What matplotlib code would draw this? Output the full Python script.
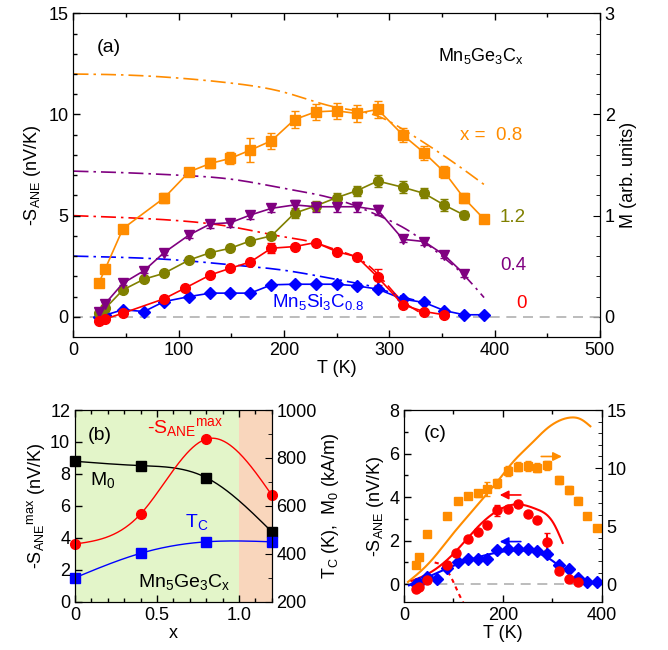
import numpy as np
import matplotlib
matplotlib.use('Agg')
import matplotlib.pyplot as plt

plt.rcParams['font.family'] = ['Liberation Sans', 'DejaVu Sans']
plt.rcParams['mathtext.default'] = 'regular'
plt.rcParams['font.size'] = 13

ORANGE = '#ff8c00'
OLIVE = '#808000'
PURPLE = '#800080'
RED = '#ff0000'
BLUE = '#0000ff'

# ---- panel (a) data: -S_ANE (nV/K) vs T (K)
T_08 = [24, 30, 47, 86, 110, 130, 149, 168, 188, 210, 230, 250, 269, 289, 313, 333, 352, 371, 390]
S_08 = [1.66, 2.35, 4.36, 5.87, 7.17, 7.58, 7.83, 8.24, 8.70, 9.75, 10.13, 10.18, 10.05, 10.25, 8.98, 8.11, 7.17, 5.86, 4.83]
E_08 = [0.1, 0.15, 0.15, 0.25, 0.2, 0.25, 0.3, 0.6, 0.4, 0.4, 0.4, 0.4, 0.4, 0.4, 0.35, 0.35, 0.3, 0.25, 0.1]

T_12 = [24, 30, 47, 67, 86, 110, 130, 149, 168, 188, 210, 230, 250, 269, 289, 313, 333, 352, 371]
S_12 = [0.21, 0.41, 1.33, 1.86, 2.15, 2.81, 3.17, 3.39, 3.75, 4.00, 5.12, 5.48, 5.89, 6.23, 6.71, 6.40, 6.10, 5.53, 5.03]
E_12 = [0.1, 0.1, 0.1, 0.1, 0.1, 0.1, 0.15, 0.15, 0.15, 0.15, 0.25, 0.25, 0.25, 0.25, 0.3, 0.3, 0.25, 0.3, 0.2]

T_04 = [24, 30, 47, 67, 86, 110, 130, 149, 168, 188, 210, 230, 250, 269, 289, 313, 333, 352, 371]
S_04 = [0.26, 0.64, 1.66, 2.28, 3.17, 4.05, 4.59, 4.65, 5.03, 5.36, 5.53, 5.44, 5.44, 5.44, 5.28, 3.83, 3.72, 3.06, 2.12]
E_04 = [0.05, 0.1, 0.1, 0.1, 0.1, 0.15, 0.2, 0.2, 0.2, 0.2, 0.25, 0.25, 0.25, 0.25, 0.25, 0.15, 0.15, 0.15, 0.15]

T_00 = [24, 30, 47, 86, 106, 130, 149, 168, 188, 210, 230, 250, 269, 289, 313, 333, 352]
S_00 = [-0.23, -0.11, 0.18, 0.89, 1.42, 2.07, 2.40, 2.71, 3.39, 3.47, 3.67, 3.22, 2.97, 1.96, 0.59, 0.26, 0.10]
E_00 = [0.05, 0.05, 0.05, 0.05, 0.05, 0.1, 0.1, 0.1, 0.25, 0.1, 0.1, 0.1, 0.1, 0.4, 0.1, 0.05, 0.05]

T_si = [24, 30, 47, 67, 86, 110, 130, 149, 168, 188, 210, 230, 250, 269, 289, 313, 333, 352, 371, 390]
S_si = [0.0, 0.08, 0.35, 0.26, 0.75, 1.00, 1.17, 1.17, 1.17, 1.58, 1.61, 1.61, 1.61, 1.53, 1.37, 0.87, 0.71, 0.31, 0.10, 0.10]

# magnetisation curves M(T), right axis (arb. units)
TM_08 = [0, 50, 100, 150, 200, 250, 290, 315, 345, 370, 391]
M_08 = [2.40, 2.39, 2.36, 2.31, 2.22, 2.07, 1.98, 1.84, 1.64, 1.46, 1.30]
TM_04 = [0, 50, 100, 150, 200, 255, 290, 320, 350, 370, 390]
M_04 = [1.44, 1.424, 1.40, 1.36, 1.27, 1.144, 1.0, 0.84, 0.60, 0.42, 0.19]
TM_00 = [0, 50, 100, 150, 200, 230, 250, 270, 290, 310, 328]
M_00 = [1.0, 0.98, 0.95, 0.89, 0.79, 0.73, 0.66, 0.58, 0.41, 0.18, 0.05]
TM_si = [0, 50, 100, 150, 200, 255, 290, 315, 335]
M_si = [0.6, 0.586, 0.56, 0.514, 0.46, 0.36, 0.28, 0.19, 0.14]

# ---- panel (b) data
x_c = [0, 0.4, 0.8, 1.2]
Smax = [3.61, 5.49, 10.18, 6.68]
M0 = [786, 768, 718, 492]
Tc = [300, 402, 450, 450]

# ---- panel (c) fit curves
TF_08 = [8, 50, 100, 134, 154, 190, 222, 255, 289, 315, 336, 358, 377]
F_08 = [0.2, 1.8, 4.4, 6.1, 7.1, 8.9, 10.6, 12.0, 13.4, 14.1, 14.35, 14.2, 13.6]
TF_00 = [15, 50, 100, 154, 194, 228, 269, 302, 321]
F_00 = [0.15, 0.5, 1.4, 2.74, 3.44, 3.67, 3.44, 2.82, 1.9]
TF_si = [10, 50, 100, 154, 200, 240, 280, 305, 321]
F_si = [-0.05, 0.35, 0.85, 1.27, 1.5, 1.55, 1.35, 1.0, 0.7]
TD_00 = [62, 75, 88, 100, 110, 120]
D_00 = [1.0, 0.9, 0.6, 0.1, -0.4, -0.85]


def smooth(x, y, n=200):
    # natural cubic spline through the points, for the connecting lines
    x = np.asarray(x, float)
    y = np.asarray(y, float)
    k = len(x)
    h = np.diff(x)
    A = np.zeros((k, k))
    r = np.zeros(k)
    A[0, 0] = A[-1, -1] = 1
    for i in range(1, k - 1):
        A[i, i - 1] = h[i - 1]
        A[i, i] = 2 * (h[i - 1] + h[i])
        A[i, i + 1] = h[i]
        r[i] = 6 * ((y[i + 1] - y[i]) / h[i] - (y[i] - y[i - 1]) / h[i - 1])
    m = np.linalg.solve(A, r)
    xs = np.linspace(x[0], x[-1], n)
    j = np.clip(np.searchsorted(x, xs) - 1, 0, k - 2)
    t = xs - x[j]
    hj = h[j]
    a = (m[j + 1] - m[j]) / (6 * hj)
    b = m[j] / 2
    c = (y[j + 1] - y[j]) / hj - hj * (2 * m[j] + m[j + 1]) / 6
    return xs, y[j] + c * t + b * t ** 2 + a * t ** 3


def style(ax):
    ax.tick_params(which='both', direction='in', top=True)
    ax.tick_params(which='major', length=5, width=1)
    ax.tick_params(which='minor', length=3, width=1)


fig = plt.figure(figsize=(6.68, 6.5), dpi=100)

# ================= (a)
ax = fig.add_axes([0.110, 0.4815, 0.788, 0.498])
ax2 = ax.twinx()
ax.set_zorder(ax2.get_zorder() + 1)
ax.patch.set_visible(False)

ax.axhline(0, color='#b0b0b0', ls=(0, (6, 4)), lw=1.2, zorder=0)
dd = (0, (9, 3, 1.5, 3))
ax2.plot(*smooth(TM_08, M_08), color=ORANGE, ls=dd, lw=1.2)
ax2.plot(*smooth(TM_04, M_04), color=PURPLE, ls=dd, lw=1.2)
ax2.plot(*smooth(TM_00, M_00), color=RED, ls=dd, lw=1.2)
ax2.plot(*smooth(TM_si, M_si), color=BLUE, ls=dd, lw=1.2)

ax.errorbar(T_08, S_08, yerr=E_08, color=ORANGE, marker='s', ms=6.5, lw=1.2, capsize=3)
ax.errorbar(T_12, S_12, yerr=E_12, color=OLIVE, marker='o', ms=7, lw=1.2, capsize=3)
ax.errorbar(T_04, S_04, yerr=E_04, color=PURPLE, marker='v', ms=7.5, lw=1.2, capsize=3)
ax.errorbar(T_00, S_00, yerr=E_00, color=RED, marker='o', ms=7, lw=1.2, capsize=3)
ax.plot(T_si, S_si, color=BLUE, marker='D', ms=6.5, lw=1.2)

ax.set_xlim(0, 500)
ax.set_ylim(-1, 15)
ax2.set_ylim(-0.2, 3)
ax.set_xticks(np.arange(0, 501, 100))
ax.set_xticks(np.arange(0, 501, 50), minor=True)
ax.set_yticks([0, 5, 10, 15])
ax.set_yticks(np.arange(0, 16, 1), minor=True)
ax2.set_yticks([0, 1, 2, 3])
ax2.set_yticks(np.arange(0, 3.01, 0.2), minor=True)
style(ax)
ax.tick_params(which='both', right=False)
ax2.tick_params(which='both', direction='in')
ax2.tick_params(which='major', length=5)
ax2.tick_params(which='minor', length=3)
ax.set_xlabel('T (K)', labelpad=1)
ax.set_ylabel(r'-S$_{ANE}$ (nV/K)')
ax2.set_ylabel('M (arb. units)')

ax.text(22, 13.3, '(a)', va='center', fontsize=14)
ax.text(346, 12.9, r'Mn$_5$Ge$_3$C$_x$', va='center', fontsize=13)
ax.text(367, 8.95, 'x =  0.8', va='center', color=ORANGE, fontsize=13.5)
ax.text(405, 4.93, '1.2', va='center', color=OLIVE, fontsize=13.5)
ax.text(405, 2.55, '0.4', va='center', color=PURPLE, fontsize=13.5)
ax.text(421, 0.66, '0', va='center', color=RED, fontsize=13.5)
ax.text(189, 0.75, r'Mn$_5$Si$_3$C$_{0.8}$', va='center', color=BLUE, fontsize=13.5)

# ================= (b)
bx = fig.add_axes([0.1123, 0.0743, 0.2945, 0.2949])
bx2 = bx.twinx()
bx.set_zorder(bx2.get_zorder() + 1)
bx.patch.set_visible(False)
bx2.axvspan(0, 1.0, color='#e3f5c9', lw=0, zorder=0)
bx2.axvspan(1.0, 1.2, color='#f9d6bc', lw=0, zorder=0)

bx.plot(*smooth(x_c, Smax), color=RED, lw=1)
bx.plot(x_c, Smax, 'o', color=RED, ms=7, clip_on=False)
bx2.plot(*smooth(x_c, M0), color='black', lw=1)
bx2.plot(x_c, M0, 's', color='black', ms=7, clip_on=False)
bx2.plot(*smooth(x_c, Tc), color=BLUE, lw=1)
bx2.plot(x_c, Tc, 's', color=BLUE, ms=7, clip_on=False)

bx.set_xlim(0, 1.2)
bx.set_ylim(0, 12)
bx2.set_ylim(200, 1000)
bx.set_xticks([0, 0.5, 1.0])
bx.set_xticklabels(['0', '0.5', '1.0'])
bx.set_xticks(np.arange(0, 1.21, 0.1), minor=True)
bx.set_yticks(np.arange(0, 13, 2))
bx2.set_yticks(np.arange(200, 1001, 200))
bx2.set_yticks(np.arange(200, 1001, 100), minor=True)
style(bx)
bx.tick_params(which='both', right=False)
bx2.tick_params(which='both', direction='in')
bx2.tick_params(which='major', length=5)
bx2.tick_params(which='minor', length=3)
bx.set_xlabel('x', labelpad=1)
bx.set_ylabel(r'-S$_{ANE}{}^{max}$ (nV/K)', labelpad=2)
bx2.set_ylabel(r'T$_C$ (K),  M$_0$ (kA/m)', labelpad=2)

bx.text(0.08, 10.4, '(b)', va='center', fontsize=14)
bx.text(0.437, 10.9, r'-S$_{ANE}{}^{max}$', va='center', color=RED, fontsize=14)
bx.text(0.09, 7.6, r'M$_0$', va='center', fontsize=14)
bx.text(0.67, 5.0, r'T$_C$', va='center', color=BLUE, fontsize=14)
bx.text(0.385, 1.25, r'Mn$_5$Ge$_3$C$_x$', va='center', fontsize=14)

# ================= (c)
cx = fig.add_axes([0.6048, 0.0743, 0.296, 0.2949])
cx2 = cx.twinx()
cx.set_zorder(cx2.get_zorder() + 1)
cx.patch.set_visible(False)

cx.axhline(0, color='#b0b0b0', ls=(0, (6, 4)), lw=1.2, zorder=0)
cx2.errorbar(T_08, S_08, yerr=E_08, color=ORANGE, marker='s', ms=6, ls='none', capsize=2.5)
cx2.plot(*smooth(TF_08, F_08), color=ORANGE, lw=1.5)
cx.errorbar(T_00, S_00, yerr=E_00, color=RED, marker='o', ms=6.5, ls='none', capsize=2.5)
cx.plot(*smooth(TF_00, F_00), color=RED, lw=1.5)
cx.plot(*smooth(TD_00, D_00), color=RED, lw=1.5, ls=(0, (2, 2)))
cx.plot(T_si, S_si, 'D', color=BLUE, ms=6)
cx.plot(*smooth(TF_si, F_si), color=BLUE, lw=1.5)

cx2.annotate('', xy=(325, 11.0), xytext=(272, 11.0),
             arrowprops=dict(arrowstyle='-|>', color=ORANGE, lw=1.2))
cx.annotate('', xy=(188, 4.1), xytext=(242, 4.1),
            arrowprops=dict(arrowstyle='-|>', color=RED, lw=1.2))
cx.annotate('', xy=(188, 1.96), xytext=(242, 1.96),
            arrowprops=dict(arrowstyle='-|>', color=BLUE, lw=1.2))

cx.set_xlim(0, 400)
cx.set_ylim(-0.8, 8)
cx2.set_ylim(-1.5, 15)
cx.set_xticks([0, 200, 400])
cx.set_xticks(np.arange(0, 401, 100), minor=True)
cx.set_yticks(np.arange(0, 9, 2))
cx.set_yticks(np.arange(0, 8.1, 1), minor=True)
cx2.set_yticks([0, 5, 10, 15])
cx2.set_yticks(np.arange(0, 15.1, 1), minor=True)
style(cx)
cx.tick_params(which='both', right=False)
cx2.tick_params(which='both', direction='in')
cx2.tick_params(which='major', length=5)
cx2.tick_params(which='minor', length=3)
cx.set_xlabel('T (K)', labelpad=1)
cx.set_ylabel(r'-S$_{ANE}$ (nV/K)', labelpad=2)
cx.text(39, 6.9, '(c)', va='center', fontsize=14)

fig.savefig('out.png', dpi=100)
